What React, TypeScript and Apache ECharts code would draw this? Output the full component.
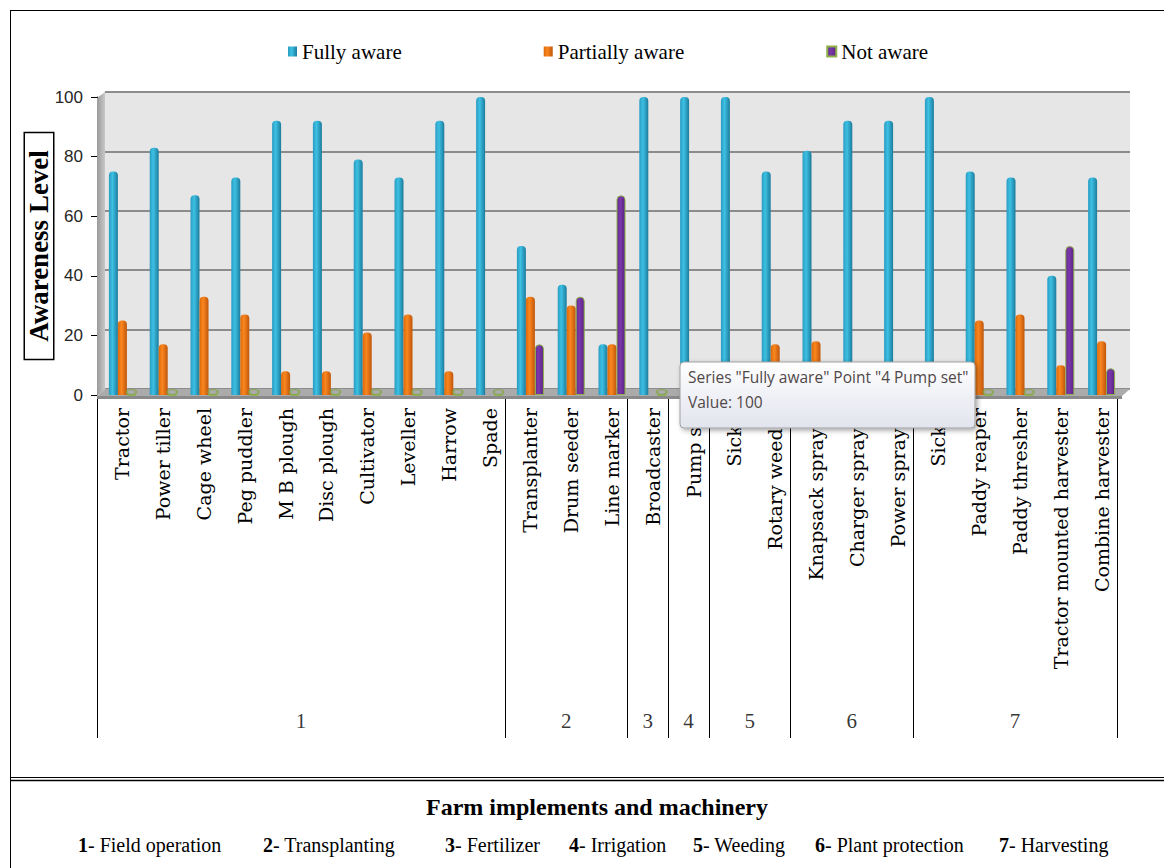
import React, { useEffect, useRef } from 'react';
import * as echarts from 'echarts';

// ---------- data ----------
const seriesNames = ['Fully aware', 'Partially aware', 'Not aware'];
const categories = [
  'Tractor', 'Power tiller', 'Cage wheel', 'Peg puddler', 'M B plough', 'Disc plough', 'Cultivator', 'Leveller', 'Harrow', 'Spade',
  'Transplanter', 'Drum seeder', 'Line marker',
  'Broadcaster',
  'Pump set',
  'Sickle', 'Rotary weeder',
  'Knapsack sprayer', 'Charger sprayer', 'Power sprayer',
  'Sickle', 'Paddy reaper', 'Paddy thresher', 'Tractor mounted harvester', 'Combine harvester',
];
const fullyAware = [75, 83, 67, 73, 92, 92, 79, 73, 92, 100, 50, 37, 17, 100, 100, 100, 75, 82, 92, 92, 100, 75, 73, 40, 73];
const partiallyAware = [25, 17, 33, 27, 8, 8, 21, 27, 8, 0, 33, 30, 17, 0, 0, 0, 17, 18, 8, 8, 0, 25, 27, 10, 18];
const notAware = [0, 0, 0, 0, 0, 0, 0, 0, 0, 0, 17, 33, 67, 0, 0, 0, 8, 0, 0, 0, 0, 0, 0, 50, 9];
const groupSizes = [10, 3, 1, 1, 2, 3, 5];
const groupLabels = ['1', '2', '3', '4', '5', '6', '7'];
const groupNames = ['Field operation', 'Transplanting', 'Fertilizer', 'Irrigation', 'Weeding', 'Plant protection', 'Harvesting'];
const yMin = 0;
const yMax = 100;
const yInterval = 20;
const axisTitle = 'Awareness Level';
const chartTitle = 'Farm implements and machinery';
const tooltipIndex = 14;

const cyl = (a: string, b: string, c: string) =>
  new echarts.graphic.LinearGradient(0, 0, 1, 0, [
    { offset: 0, color: a },
    { offset: 0.4, color: b },
    { offset: 1, color: c },
  ]);

export default function App() {
  const ref = useRef<HTMLDivElement>(null);
  useEffect(() => {
    document.body.style.margin = '0';
    const chart = echarts.init(ref.current!, null, { renderer: 'svg' });

    const bounds: number[] = [0];
    groupSizes.forEach((s) => bounds.push(bounds[bounds.length - 1] + s));
    const centers = groupSizes.map((s, i) => bounds[i] + s / 2);
    let tipGroup = 0;
    for (let i = 0; i < groupSizes.length; i++) if (tooltipIndex >= bounds[i] && tooltipIndex < bounds[i + 1]) tipGroup = i;

    const serif = "'Liberation Serif', 'Times New Roman', serif";
    const legendRowX = [78, 263, 445, 569, 693, 815, 999];

    const barCommon = {
      type: 'bar',
      xAxisIndex: 0,
      yAxisIndex: 0,
      barWidth: 9,
      barGap: '0%',
      z: 3,
    };

    const option: any = {
      animation: false,
      backgroundColor: '#fff',
      textStyle: { fontFamily: serif },
      legend: {
        data: seriesNames,
        left: 283,
        top: 36,
        itemWidth: 9,
        itemHeight: 10,
        itemGap: 142,
        icon: 'rect',
        selectedMode: false,
        textStyle: { fontFamily: serif, fontSize: 21, color: '#000' },
      },
      grid: [
        { left: 102, top: 97, width: 1020, height: 298, containLabel: false },
        { left: 105, top: 92, width: 1025, height: 297, show: true, backgroundColor: '#E6E6E6', borderWidth: 0 },
        { left: 97, top: 399, width: 1020, height: 339 },
      ],
      xAxis: [
        {
          gridIndex: 0,
          type: 'category',
          data: categories,
          axisLine: { show: false },
          axisTick: { show: false },
          axisLabel: { rotate: 90, interval: 0, margin: 13, fontFamily: 'DejaVu Serif', fontSize: 19, color: '#000' },
        },
        { gridIndex: 1, type: 'value', min: 0, max: 1, show: false },
        { gridIndex: 2, type: 'value', min: 0, max: bounds[bounds.length - 1], show: false },
      ],
      yAxis: [
        {
          gridIndex: 0,
          type: 'value',
          min: yMin,
          max: yMax,
          interval: yInterval,
          offset: 5,
          axisLine: { show: true, lineStyle: { color: '#000', width: 1 } },
          axisTick: { show: true, length: 6, lineStyle: { color: '#000' } },
          axisLabel: { margin: 14, fontFamily: 'Liberation Sans', fontSize: 17, color: '#262626' },
          splitLine: { show: false },
        },
        {
          gridIndex: 1,
          type: 'value',
          min: yMin,
          max: yMax,
          interval: yInterval,
          axisLine: { show: false },
          axisTick: { show: false },
          axisLabel: { show: false },
          splitLine: { show: true, lineStyle: { color: '#8C8C8C', width: 2 } },
        },
        { gridIndex: 2, type: 'value', min: 0, max: 1, show: false },
      ],
      series: [
        {
          ...barCommon,
          name: seriesNames[0],
          data: fullyAware,
          itemStyle: { color: cyl('#2A9CC2', '#3DC0E3', '#1C7C9D'), borderRadius: [4, 4, 0, 0] },
        },
        {
          ...barCommon,
          name: seriesNames[1],
          data: partiallyAware,
          itemStyle: { color: cyl('#DC6A08', '#FA861F', '#C0560A'), borderRadius: [4, 4, 0, 0] },
        },
        {
          ...barCommon,
          name: seriesNames[2],
          data: notAware,
          itemStyle: {
            color: cyl('#66298F', '#7A38AC', '#5A2384'),
            borderRadius: [4, 4, 0, 0],
            borderColor: '#8DB04A',
            borderWidth: 1,
          },
        },
        {
          name: 'zero rings',
          type: 'scatter',
          xAxisIndex: 0,
          yAxisIndex: 0,
          symbol: 'circle',
          symbolSize: [10, 5],
          symbolOffset: [9, -3],
          z: 4,
          silent: true,
          itemStyle: { color: 'rgba(0,0,0,0)', borderColor: '#7FA63A', borderWidth: 1.4 },
          data: notAware.map((v) => (v === 0 ? 0 : '-')),
        },
        {
          name: 'wall',
          type: 'line',
          xAxisIndex: 1,
          yAxisIndex: 1,
          data: [],
          silent: true,
        },
        {
          name: 'groups',
          type: 'scatter',
          xAxisIndex: 2,
          yAxisIndex: 2,
          symbolSize: 1,
          silent: true,
          itemStyle: { color: 'rgba(0,0,0,0)' },
          label: {
            show: true,
            position: 'inside',
            formatter: '{b}',
            fontFamily: serif,
            fontSize: 21,
            color: '#000',
          },
          data: centers.map((c, i) => ({ name: groupLabels[i], value: [c, 0.05] })),
          markLine: {
            silent: true,
            symbol: ['none', 'none'],
            label: { show: false },
            lineStyle: { color: '#000', width: 1, type: 'solid' },
            data: bounds.map((b) => ({ xAxis: b })),
          },
        },
      ],
      graphic: [
        {
          type: 'polygon',
          z: 1,
          silent: true,
          shape: { points: [[97, 98], [105, 92], [105, 389], [97, 396]] },
          style: {
            fill: new echarts.graphic.LinearGradient(0, 0, 1, 0, [
              { offset: 0, color: '#9A9A9A' },
              { offset: 1, color: '#C8C8C8' },
            ]),
          },
        },
        {
          type: 'polygon',
          z: 1,
          silent: true,
          shape: { points: [[97, 396], [105, 389], [1130, 389], [1122, 396]] },
          style: { fill: '#ABABAB' },
        },
        {
          type: 'rect',
          z: 1,
          silent: true,
          shape: { x: 97, y: 396, width: 1025, height: 3 },
          style: { fill: '#8A8A8A' },
        },
        { type: 'line', silent: true, shape: { x1: 10.5, y1: 10, x2: 10.5, y2: 868 }, style: { stroke: '#000', lineWidth: 1 } },
        { type: 'line', silent: true, shape: { x1: 10, y1: 10.5, x2: 1164, y2: 10.5 }, style: { stroke: '#000', lineWidth: 1 } },
        { type: 'line', silent: true, shape: { x1: 10, y1: 777.5, x2: 1164, y2: 777.5 }, style: { stroke: '#000', lineWidth: 1 } },
        { type: 'line', silent: true, shape: { x1: 10, y1: 780.5, x2: 1164, y2: 780.5 }, style: { stroke: '#000', lineWidth: 1.5 } },
        {
          type: 'text',
          x: 39,
          y: 246,
          rotation: Math.PI / 2,
          silent: true,
          style: {
            text: axisTitle,
            fontFamily: serif,
            fontWeight: 'bold',
            fontSize: 27,
            fill: '#000',
            align: 'center',
            verticalAlign: 'middle',
            borderColor: '#000',
            borderWidth: 1.5,
            backgroundColor: '#fff',
            padding: [1, 17, 0, 17],
          },
        },
        {
          type: 'text',
          x: 597,
          y: 807,
          silent: true,
          style: {
            text: chartTitle,
            fontFamily: serif,
            fontWeight: 'bold',
            fontSize: 24,
            fill: '#000',
            align: 'center',
            verticalAlign: 'middle',
          },
        },
        ...groupNames.map((n, i) => ({
          type: 'text',
          x: legendRowX[i],
          y: 845,
          silent: true,
          style: {
            text: `{b|${groupLabels[i]}}- ${n}`,
            fontFamily: serif,
            fontSize: 20,
            fill: '#000',
            verticalAlign: 'middle',
            rich: {
              b: { fontFamily: serif, fontSize: 20, fontWeight: 'bold', fill: '#000' },
            },
          },
        })),
        {
          type: 'group',
          z: 100,
          children: [
            {
              type: 'rect',
              z: 100,
              shape: { x: 680, y: 362, width: 295, height: 66, r: 4 },
              style: {
                fill: new echarts.graphic.LinearGradient(0, 0, 0, 1, [
                  { offset: 0, color: '#FFFFFF' },
                  { offset: 1, color: '#E2E4EE' },
                ]),
                stroke: '#A0A0A0',
                lineWidth: 1,
                shadowBlur: 5,
                shadowColor: 'rgba(0,0,0,0.35)',
                shadowOffsetX: 2,
                shadowOffsetY: 2,
              },
            },
            {
              type: 'text',
              z: 101,
              x: 688,
              y: 377,
              style: {
                text: `Series "${seriesNames[0]}" Point "${groupLabels[tipGroup]} ${categories[tooltipIndex]}"`,
                fontFamily: 'Open Sans',
                fontSize: 15.5,
                fill: '#504848',
                verticalAlign: 'middle',
              },
            },
            {
              type: 'text',
              z: 101,
              x: 688,
              y: 402,
              style: {
                text: `Value: ${fullyAware[tooltipIndex]}`,
                fontFamily: 'Open Sans',
                fontSize: 15.5,
                fill: '#504848',
                verticalAlign: 'middle',
              },
            },
          ],
        },
      ],
    };

    chart.setOption(option);
    return () => chart.dispose();
  }, []);
  return <div ref={ref} style={{ position: 'absolute', left: 0, top: 0, width: 1164, height: 868 }} />;
}
